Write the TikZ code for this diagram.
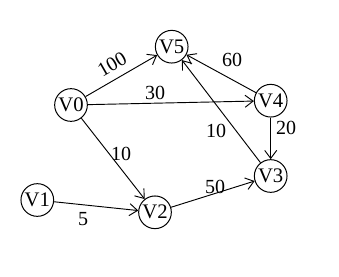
\documentclass[tikz,border=0pt]{standalone}
\usepackage{fontspec}
\setmainfont{Liberation Serif}
\usetikzlibrary{arrows.meta}
\begin{document}
\begin{tikzpicture}[x=0.75pt,y=-0.75pt,
  vert/.style={circle,draw,line width=0.75pt,minimum size=24.5pt,inner sep=0pt,font=\fontsize{15.5}{15.5}\selectfont},
  edge/.style={line width=0.7pt,-{Straight Barb[length=6pt,width=9pt,line width=0.7pt]}},
  wlab/.style={font=\fontsize{15}{15}\selectfont,inner sep=0pt}]
\useasboundingbox (0,0) rectangle (339,276);
\node[vert] (V5) at (171.7,46.7) {V5};
\node[vert] (V0) at (71,105) {V0};
\node[vert] (V4) at (270.7,100.7) {V4};
\node[vert] (V3) at (270.7,176) {V3};
\node[vert] (V1) at (37.3,200) {V1};
\node[vert] (V2) at (155,212.3) {V2};
\draw[edge] (V0) -- (V5);
\draw[edge] (V0) -- (V4);
\draw[edge] (V0) -- (V2);
\draw[edge] (V1) -- (V2);
\draw[edge] (V2) -- (V3);
\draw[edge] (V4) -- (V3);
\draw[edge] (V4) -- (V5);
\draw[edge] (V3) -- (V5);
\node[wlab,rotate=30] (l100) at (112,64) {100};
\node[wlab] (l30) at (155,93) {30};
\node[wlab] (l10a) at (121,154) {10};
\node[wlab] (l60) at (232,60) {60};
\node[wlab] (l20) at (286,128) {20};
\node[wlab] (l10b) at (216,131) {10};
\node[wlab] (l50) at (215,187) {50};
\node[wlab] (l5) at (83,219) {5};
\end{tikzpicture}
\end{document}
